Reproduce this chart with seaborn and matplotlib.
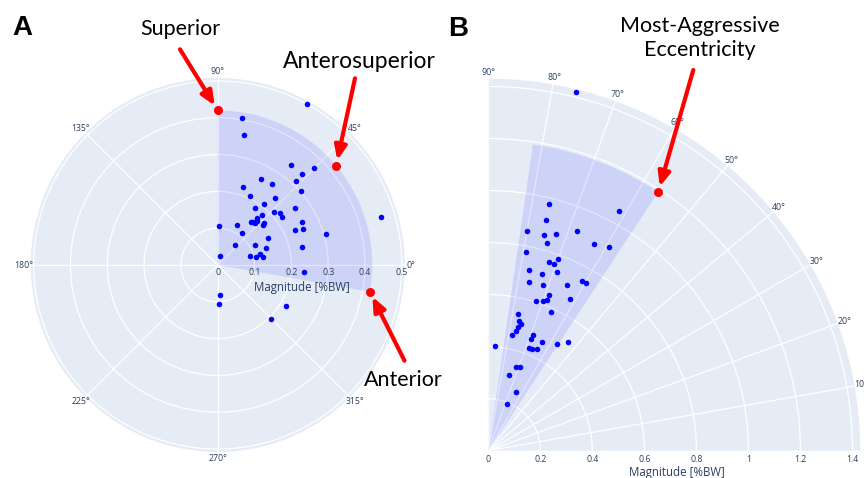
import numpy as np
import matplotlib
matplotlib.use("Agg")
import matplotlib.pyplot as plt
import matplotlib.transforms as mtrans
import seaborn as sns

# ---------------- data ----------------
# Panel A: direction (deg) and magnitude (%BW)
a_theta = [61.0, 80.6, 78.7, 53.9, 45.2, 47.4, 63.2, 56.3, 47.2, 71.8,
           41.6, 64.8, 49.2, 53.1, 56.7, 36.7, 48.1, 43.0, 39.9, 36.4,
           50.1, 52.7, 50.6, 48.4, 48.4, 41.6, 42.2, 88.5, 63.7, 52.7,
           27.1, 22.9, 24.5, 16.0, 28.2, 16.3, 49.4, 28.0, 19.6, 11.8,
           75.7, 14.9, 12.1, 14.3, 10.1, -4.9, -85.7, -87.7, -31.0, -45.4]
a_mag = [0.499, 0.405, 0.359, 0.336, 0.373, 0.337, 0.261, 0.266, 0.312, 0.222,
         0.302, 0.206, 0.239, 0.208, 0.186, 0.261, 0.181, 0.210, 0.220, 0.218,
         0.165, 0.148, 0.152, 0.160, 0.154, 0.164, 0.171, 0.106, 0.120, 0.110,
         0.256, 0.251, 0.231, 0.305, 0.155, 0.461, 0.073, 0.114, 0.140, 0.235,
         0.025, 0.092, 0.107, 0.118, 0.124, 0.235, 0.083, 0.107, 0.217, 0.207]

# Panel A highlighted sector and its marked corners
a_sector = (-10, 90)
a_sector_r = 0.42
a_mark_theta = [90, 40, -10]
a_mark_names = ["Superior", "Anterosuperior", "Anterior"]

# Panel B: direction (deg) and magnitude (%BW)
b_theta = [76.2, 76.1, 61.5, 75.9, 79.9, 75.5, 72.7, 67.9, 74.2, 62.9,
           59.4, 79.3, 70.0, 72.2, 70.7, 77.4, 73.1, 68.9, 76.5, 71.6,
           64.6, 61.1, 59.9, 68.7, 72.3, 69.8, 68.8, 61.6, 65.7, 77.7,
           76.8, 75.6, 76.6, 76.8, 78.5, 68.8, 69.3, 63.7, 53.8, 57.3,
           86.3, 68.2, 66.7, 64.3, 71.6, 69.2, 74.7, 64.9, 68.3]
b_mag = [1.419, 0.977, 1.049, 0.915, 0.857, 0.858, 0.872, 0.911, 0.829, 0.894,
         0.911, 0.778, 0.786, 0.760, 0.762, 0.712, 0.711, 0.736, 0.667, 0.670,
         0.704, 0.747, 0.746, 0.642, 0.603, 0.612, 0.622, 0.662, 0.583, 0.537,
         0.512, 0.502, 0.489, 0.473, 0.455, 0.475, 0.461, 0.466, 0.519, 0.487,
         0.402, 0.425, 0.425, 0.433, 0.341, 0.343, 0.302, 0.248, 0.195]

b_sector = (56.7, 81.7)
b_sector_r = 1.19
b_mark_theta = [56.7]

a_rticks = [0, 0.1, 0.2, 0.3, 0.4, 0.5]
a_rlabels = ["0", "0.1", "0.2", "0.3", "0.4", "0.5"]
a_tticks = [0, 45, 90, 135, 180, 225, 270, 315]
a_tlabels = ["0°", "45°", "90°", "135°", "180°", "225°", "270°", "315°"]
b_rticks = [0, 0.2, 0.4, 0.6, 0.8, 1.0, 1.2, 1.4]
b_rlabels = ["0", "0.2", "0.4", "0.6", "0.8", "1", "1.2", "1.4"]
b_tticks = [0, 10, 20, 30, 40, 50, 60, 70, 80, 90]
b_tlabels = ["", "10°", "20°", "30°", "40°", "50°", "60°", "70°", "80°", "90°"]

# ---------------- style ----------------
BG = "#E5ECF6"
TICK = "#2a3f5f"
TFONT = ["Open Sans", "DejaVu Sans"]
AFONT = ["Lato", "DejaVu Sans"]

fig = plt.figure(figsize=(8.64, 4.78), dpi=100)
W, H = 864, 478
axA = fig.add_axes([30.7 / W, 26 / H, 374 / W, 374 / H], projection="polar")
axB = fig.add_axes([488.3 / W, 27.3 / H, 372 / W, 372 / H], projection="polar")


def style(ax, rmax, rticks, rlabels, tticks, tlabels, lab_off, title_r, title_off):
    ax.set_facecolor(BG)
    ax.patch.set_edgecolor("none")
    ax.patch.set_linewidth(0)
    ax.set_axisbelow(True)
    ax.set_ylim(0, rmax)
    ax.set_yticks([t for t in rticks if t > 0])
    ax.set_yticklabels([])
    ax.set_xticks(np.deg2rad(tticks))
    ax.set_xticklabels(tlabels, fontsize=6.3, color=TICK, family=TFONT)
    ax.tick_params(axis="x", pad=-2.2, length=0)
    ax.tick_params(axis="y", length=0, left=False, right=False)
    ax.grid(color="white", lw=0.9)
    off = mtrans.offset_copy(ax.transData, fig=fig, x=0, y=-lab_off, units="dots")
    for r, lab in zip(rticks, rlabels):
        ax.text(0, r, lab, transform=off, ha="center", va="center",
                fontsize=6.3, color=TICK, family=TFONT)
    offt = mtrans.offset_copy(ax.transData, fig=fig, x=0, y=-title_off, units="dots")
    ax.text(0, title_r, "Magnitude [%BW]", transform=offt, ha="center",
            va="center", fontsize=8.3, color=TICK, family=TFONT)


style(axA, 0.508, a_rticks, a_rlabels, a_tticks, a_tlabels, 7.7, 0.228, 22.7)
axB.set_thetamin(0)
axB.set_thetamax(90)
style(axB, 1.43, b_rticks, b_rlabels, b_tticks, b_tlabels, 8.6, 0.726, 21.8)

# sectors
for ax, (s, e), r in [(axA, a_sector, a_sector_r), (axB, b_sector, b_sector_r)]:
    ax.bar(np.deg2rad((s + e) / 2), r, width=np.deg2rad(e - s), bottom=0,
           color="blue", alpha=0.1, edgecolor="none", linewidth=0, zorder=1)

# data points
sns.scatterplot(x=np.deg2rad(a_theta), y=a_mag, ax=axA, color="#0000FF",
                s=16, linewidth=0, zorder=3, legend=False)
sns.scatterplot(x=np.deg2rad(b_theta), y=b_mag, ax=axB, color="#0000FF",
                s=16, linewidth=0, zorder=3, legend=False)

# marked corners
sns.scatterplot(x=np.deg2rad(a_mark_theta), y=[a_sector_r] * len(a_mark_theta),
                ax=axA, color="red", s=42, linewidth=0, zorder=4, legend=False)
sns.scatterplot(x=np.deg2rad(b_mark_theta), y=[b_sector_r] * len(b_mark_theta),
                ax=axB, color="red", s=42, linewidth=0, zorder=4, legend=False)
axA.set_ylim(0, 0.508)
axB.set_ylim(0, 1.43)
for ax in (axA, axB):
    ax.set_xlabel("")
    ax.set_ylabel("")
    for sp in ax.spines.values():
        sp.set_visible(False)
        sp.set_linewidth(0)

arrow = dict(arrowstyle="-|>,head_length=0.7,head_width=0.3", color="red",
             lw=3, shrinkA=0, shrinkB=4, mutation_scale=12)

# annotation text and arrows
a_label_pos = [(180, 28.7), (359, 61.7), (403, 380)]
a_label_size = [15.5, 16.5, 15.5]
a_arrow_tail = [(180, 49.3), (355, 78.3), (404.5, 360.7)]
for th, name, (tx, ty), fs, (ax_, ay_) in zip(a_mark_theta, a_mark_names,
                                              a_label_pos, a_label_size,
                                              a_arrow_tail):
    fig.text(tx / W, 1 - ty / H, name, ha="center", va="center",
             fontsize=fs, family=AFONT, color="black")
    axA.annotate("", xy=(np.deg2rad(th), a_sector_r), xycoords="data",
                 xytext=(ax_, H - ay_), textcoords="figure pixels",
                 arrowprops=arrow)

fig.text(700 / W, 1 - 38 / H, "Most-Aggressive\nEccentricity", ha="center",
         va="center", fontsize=15.5, family=AFONT, color="black", linespacing=1.3)
axB.annotate("", xy=(np.deg2rad(b_mark_theta[0]), b_sector_r), xycoords="data",
             xytext=(693.3, H - 70), textcoords="figure pixels", arrowprops=arrow)

fig.text(22.5 / W, 1 - 28 / H, "A", ha="center", va="center", fontsize=20,
         fontweight="bold", family=["Liberation Sans", "DejaVu Sans"])
fig.text(458 / W, 1 - 29 / H, "B", ha="center", va="center", fontsize=20,
         fontweight="bold", family=["Liberation Sans", "DejaVu Sans"])

fig.savefig("out.png", dpi=100, facecolor="white")
